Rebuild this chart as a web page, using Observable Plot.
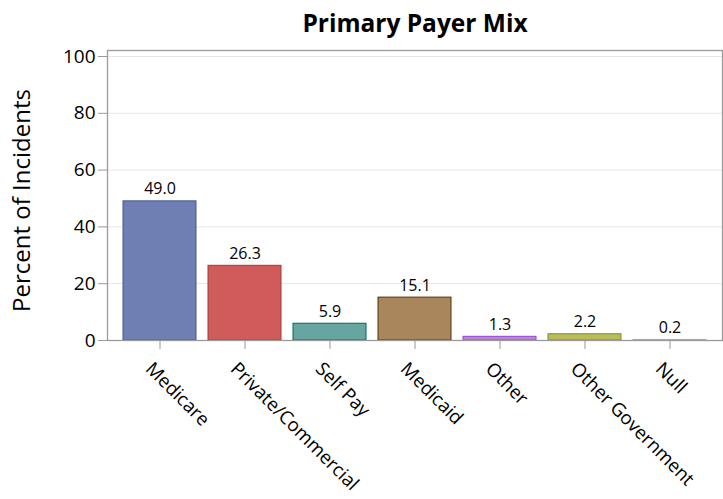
<!DOCTYPE html>
<html>
<head>
<meta charset="utf-8">
<script src="https://cdn.jsdelivr.net/npm/d3@7"></script>
<script src="https://cdn.jsdelivr.net/npm/@observablehq/plot@0.6"></script>
<style>
  html, body { margin: 0; padding: 0; background: #fff; }
  svg { display: block; }
</style>
</head>
<body>
<div id="chart"></div>
<script>
const title = "Primary Payer Mix";
const yLabel = "Percent of Incidents";
const categories = ["Medicare", "Private/Commercial", "Self Pay", "Medicaid", "Other", "Other Government", "Null"];
const values = [49.0, 26.3, 5.9, 15.1, 1.3, 2.2, 0.2];
const fills = ["#6F7EB3", "#D05B5B", "#66A5A0", "#A9865B", "#B689CD", "#BABC5C", "#94BDE1"];
const strokes = ["#445694", "#A23A2E", "#01665E", "#543005", "#9D3CDB", "#7F8E1F", "#7DB8EE"];
const yTicks = [0, 20, 40, 60, 80, 100];

const data = categories.map((c, i) => ({category: c, value: values[i], fill: fills[i], stroke: strokes[i]}));

const font = "'Open Sans', 'Noto Sans', sans-serif";

const chart = Plot.plot({
  width: 723,
  height: 499,
  marginLeft: 107,
  marginRight: 1,
  marginTop: 50,
  marginBottom: 159,
  style: {fontFamily: font, background: "#fff", color: "#000"},
  x: {domain: categories, paddingInner: 0.14, paddingOuter: 0.15, label: null},
  y: {domain: [0, 100], insetTop: 6, label: null},
  color: {type: "identity"},
  marks: [
    Plot.gridY(yTicks, {stroke: "#e6e6e6", strokeOpacity: 1}),
    Plot.barY(data, {x: "category", y: "value", fill: "fill", stroke: "stroke", strokeWidth: 1}),
    Plot.text(data, {x: "category", y: "value", text: d => d.value.toFixed(1), lineAnchor: "bottom", dy: -7, fontSize: 16, fill: "#000"}),
    Plot.frame({stroke: "#9a9a9a", strokeWidth: 1.3}),
    Plot.axisY({ticks: yTicks, tickSize: 9, tickPadding: 3, stroke: "#9a9a9a", fill: "#000", fontSize: 19, label: null}),
    Plot.axisX({tickSize: 9, stroke: "#9a9a9a", tickFormat: () => "", label: null}),
    Plot.text(categories, {x: d => d, frameAnchor: "bottom", rotate: 45, textAnchor: "start", lineAnchor: "top", dx: -6, dy: 20, fontSize: 18.7, fill: "#000"}),
    Plot.text([title], {frameAnchor: "top", lineAnchor: "bottom", dy: -19, fontSize: 24.5, fontWeight: "bold", fill: "#000"}),
    Plot.text([yLabel], {frameAnchor: "left", rotate: -90, textAnchor: "middle", lineAnchor: "middle", dx: -85, dy: 5, fontSize: 24, fill: "#000"})
  ]
});
document.getElementById("chart").appendChild(chart);
</script>
</body>
</html>
